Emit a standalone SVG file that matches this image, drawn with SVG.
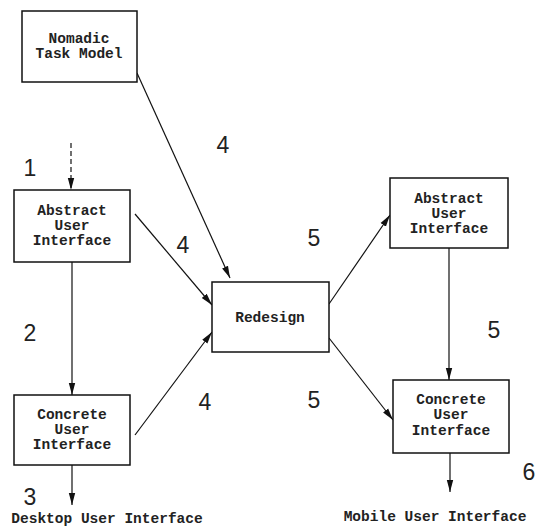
<svg xmlns="http://www.w3.org/2000/svg" width="536" height="527" viewBox="0 0 536 527">
<defs>
<marker id="ah" viewBox="0 0 12 8" refX="12" refY="4" markerWidth="12" markerHeight="8" markerUnits="userSpaceOnUse" orient="auto">
<path d="M0,0.8 L12,4 L0,7.2 Z" fill="#111"/>
</marker>
<style>
.box{fill:#fff;stroke:#111;stroke-width:1.5}
.t{font-family:"Liberation Mono","Courier New",monospace;font-weight:bold;font-size:14.5px;fill:#222;text-anchor:middle}
.n{font-family:"Liberation Sans",Arial,sans-serif;font-size:23px;fill:#222;text-anchor:middle}
.c{fill:none;stroke:#111;stroke-width:1.2;marker-end:url(#ah)}
</style>
</defs>
<rect width="536" height="527" fill="#fff"/>
<g id="connectors">
<path class="c" d="M71,143 L71,190" stroke-dasharray="5,3"/>
<path class="c" d="M137,73 L230,278"/>
<path class="c" d="M135,214 L212,305"/>
<path class="c" d="M72,262 L72,395"/>
<path class="c" d="M135,435 L212,332"/>
<path class="c" d="M72,465 L72,505"/>
<path class="c" d="M329,304 L390,215"/>
<path class="c" d="M329,338 L393,420"/>
<path class="c" d="M449,248 L449,380"/>
<path class="c" d="M450,453 L450,492"/>
</g>
<g id="nomadic">
<rect class="box" x="22" y="11" width="115" height="71"/>
<text class="t" x="79" y="43">Nomadic</text>
<text class="t" x="79" y="58">Task Model</text>
</g>
<g id="abstract-left">
<rect class="box" x="14" y="190" width="116" height="72"/>
<text class="t" x="72" y="215">Abstract</text>
<text class="t" x="72" y="230">User</text>
<text class="t" x="72" y="245">Interface</text>
</g>
<g id="concrete-left">
<rect class="box" x="14" y="395" width="116" height="70"/>
<text class="t" x="72" y="419">Concrete</text>
<text class="t" x="72" y="434">User</text>
<text class="t" x="72" y="449">Interface</text>
</g>
<g id="redesign">
<rect class="box" x="212" y="282" width="117" height="70"/>
<text class="t" x="270" y="322">Redesign</text>
</g>
<g id="abstract-right">
<rect class="box" x="390" y="178" width="118" height="70"/>
<text class="t" x="449" y="203">Abstract</text>
<text class="t" x="449" y="218">User</text>
<text class="t" x="449" y="233">Interface</text>
</g>
<g id="concrete-right">
<rect class="box" x="393" y="380" width="116" height="73"/>
<text class="t" x="451" y="404">Concrete</text>
<text class="t" x="451" y="419">User</text>
<text class="t" x="451" y="435">Interface</text>
</g>
<g id="labels">
<text class="n" x="30" y="176">1</text>
<text class="n" x="30" y="341">2</text>
<text class="n" x="30" y="505">3</text>
<text class="n" x="223" y="153">4</text>
<text class="n" x="183" y="253">4</text>
<text class="n" x="205" y="410">4</text>
<text class="n" x="314" y="246">5</text>
<text class="n" x="494" y="338">5</text>
<text class="n" x="314" y="408">5</text>
<text class="n" x="529" y="480">6</text>
<text class="t" x="107" y="523">Desktop User Interface</text>
<text class="t" x="435" y="521">Mobile User Interface</text>
</g>
</svg>
